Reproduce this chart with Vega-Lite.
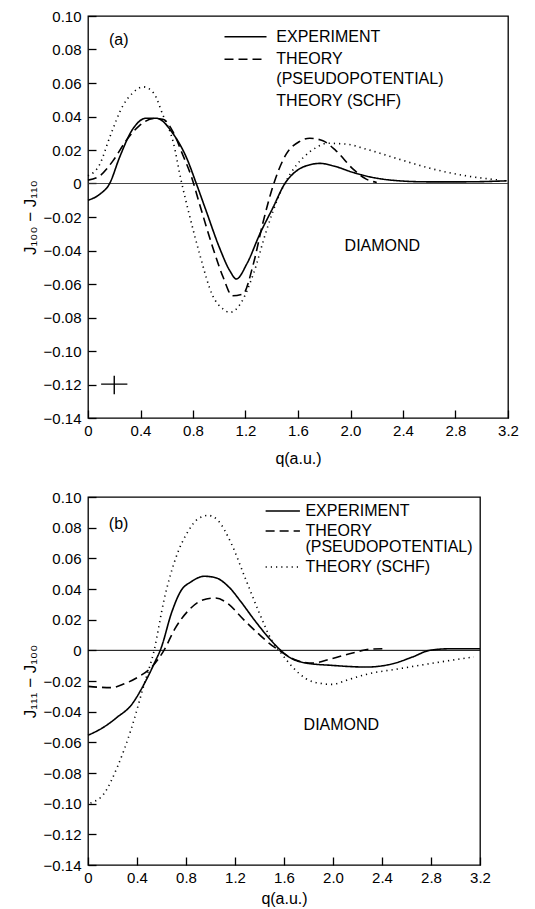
{
  "$schema": "https://vega.github.io/schema/vega-lite/v6.json",
  "background": "white",
  "padding": {"left": 20, "top": 8, "right": 12, "bottom": 0},
  "spacing": 22,
  "config": {
    "font": "Liberation Sans",
    "view": {"stroke": "black", "strokeWidth": 1.3},
    "axis": {
      "domain": false,
      "grid": false,
      "zindex": 1,
      "tickSize": -8,
      "tickColor": "black",
      "tickWidth": 1.3,
      "tickCount": 20,
      "labelFontSize": 15,
      "labelColor": "black",
      "labelOverlap": false,
      "labelFlush": false,
      "titleFontSize": 16,
      "titleFontWeight": "normal",
      "titleColor": "black"
    },
    "text": {"font": "Liberation Sans", "fontSize": 16, "align": "left", "baseline": "middle", "color": "black"}
  },
  "vconcat": [
    {
      "width": 420,
      "height": 402,
      "layer": [
        {
          "data": {"values": [{"q": 0, "q2": 3.2, "v": 0}]},
          "mark": {"type": "rule", "color": "#333", "strokeWidth": 0.9},
          "encoding": {
            "x": {"field": "q", "type": "quantitative", "scale": {"domain": [0, 3.2], "nice": false, "zero": false},
                  "axis": {"values": [0, 0.4, 0.8, 1.2, 1.6, 2.0, 2.4, 2.8, 3.2], "tickCount": 20, "labelExpr": "datum.value == 0 ? '0' : format(datum.value, '.1f')", "title": "q(a.u.)", "titlePadding": 12, "labelPadding": 13, "labelOverlap": false}},
            "x2": {"field": "q2"},
            "y": {"field": "v", "type": "quantitative", "scale": {"domain": [-0.14, 0.10], "nice": false, "zero": false},
                  "axis": {"values": [-0.14, -0.12, -0.10, -0.08, -0.06, -0.04, -0.02, 0, 0.02, 0.04, 0.06, 0.08, 0.10], "tickCount": 20, "labelExpr": "datum.value == 0 ? '0' : format(datum.value, '.2f')", "title": "J₁₀₀ − J₁₁₀", "titleFontSize": 17, "titlePadding": 4, "labelPadding": 15, "labelOverlap": false}}
          }
        },
        {
          "data": {"values": [
            {"s": "exp", "q": 0, "v": -0.010}, {"s": "exp", "q": 0.09, "v": -0.0064}, {"s": "exp", "q": 0.165, "v": 0}, {"s": "exp", "q": 0.24, "v": 0.0155}, {"s": "exp", "q": 0.34, "v": 0.0324}, {"s": "exp", "q": 0.445, "v": 0.039}, {"s": "exp", "q": 0.52, "v": 0.039}, {"s": "exp", "q": 0.65, "v": 0.0295}, {"s": "exp", "q": 0.75, "v": 0.0155}, {"s": "exp", "q": 0.825, "v": 0}, {"s": "exp", "q": 0.9, "v": -0.0163}, {"s": "exp", "q": 1.0, "v": -0.038}, {"s": "exp", "q": 1.08, "v": -0.052}, {"s": "exp", "q": 1.13, "v": -0.057}, {"s": "exp", "q": 1.21, "v": -0.048}, {"s": "exp", "q": 1.31, "v": -0.030}, {"s": "exp", "q": 1.41, "v": -0.0143}, {"s": "exp", "q": 1.5, "v": 0}, {"s": "exp", "q": 1.56, "v": 0.0056}, {"s": "exp", "q": 1.66, "v": 0.0105}, {"s": "exp", "q": 1.77, "v": 0.012}, {"s": "exp", "q": 1.87, "v": 0.0105}, {"s": "exp", "q": 2.02, "v": 0.0066}, {"s": "exp", "q": 2.17, "v": 0.0036}, {"s": "exp", "q": 2.37, "v": 0.0016}, {"s": "exp", "q": 2.58, "v": 0.001}, {"s": "exp", "q": 2.88, "v": 0.001}, {"s": "exp", "q": 3.19, "v": 0.0016},
            {"s": "pseudo", "q": 0, "v": 0.002}, {"s": "pseudo", "q": 0.09, "v": 0.0046}, {"s": "pseudo", "q": 0.19, "v": 0.0135}, {"s": "pseudo", "q": 0.29, "v": 0.0255}, {"s": "pseudo", "q": 0.39, "v": 0.0344}, {"s": "pseudo", "q": 0.5, "v": 0.0388}, {"s": "pseudo", "q": 0.57, "v": 0.0384}, {"s": "pseudo", "q": 0.65, "v": 0.0305}, {"s": "pseudo", "q": 0.72, "v": 0.0175}, {"s": "pseudo", "q": 0.79, "v": 0.0036}, {"s": "pseudo", "q": 0.85, "v": -0.0123}, {"s": "pseudo", "q": 0.95, "v": -0.038}, {"s": "pseudo", "q": 1.03, "v": -0.056}, {"s": "pseudo", "q": 1.1, "v": -0.067}, {"s": "pseudo", "q": 1.18, "v": -0.066}, {"s": "pseudo", "q": 1.26, "v": -0.048}, {"s": "pseudo", "q": 1.33, "v": -0.0243}, {"s": "pseudo", "q": 1.41, "v": -0.0014}, {"s": "pseudo", "q": 1.51, "v": 0.0175}, {"s": "pseudo", "q": 1.61, "v": 0.025}, {"s": "pseudo", "q": 1.69, "v": 0.027}, {"s": "pseudo", "q": 1.79, "v": 0.0255}, {"s": "pseudo", "q": 1.89, "v": 0.0195}, {"s": "pseudo", "q": 2.02, "v": 0.0086}, {"s": "pseudo", "q": 2.12, "v": 0.0026}, {"s": "pseudo", "q": 2.2, "v": 0.0006},
            {"s": "schf", "q": 0, "v": 0.0046}, {"s": "schf", "q": 0.09, "v": 0.0115}, {"s": "schf", "q": 0.165, "v": 0.0275}, {"s": "schf", "q": 0.27, "v": 0.047}, {"s": "schf", "q": 0.34, "v": 0.054}, {"s": "schf", "q": 0.42, "v": 0.0577}, {"s": "schf", "q": 0.5, "v": 0.054}, {"s": "schf", "q": 0.57, "v": 0.041}, {"s": "schf", "q": 0.65, "v": 0.0245}, {"s": "schf", "q": 0.71, "v": 0.0016}, {"s": "schf", "q": 0.77, "v": -0.018}, {"s": "schf", "q": 0.85, "v": -0.042}, {"s": "schf", "q": 0.95, "v": -0.067}, {"s": "schf", "q": 1.03, "v": -0.075}, {"s": "schf", "q": 1.08, "v": -0.077}, {"s": "schf", "q": 1.16, "v": -0.072}, {"s": "schf", "q": 1.26, "v": -0.054}, {"s": "schf", "q": 1.36, "v": -0.028}, {"s": "schf", "q": 1.46, "v": -0.0064}, {"s": "schf", "q": 1.54, "v": 0.0056}, {"s": "schf", "q": 1.64, "v": 0.0155}, {"s": "schf", "q": 1.74, "v": 0.0215}, {"s": "schf", "q": 1.82, "v": 0.024}, {"s": "schf", "q": 1.97, "v": 0.0235}, {"s": "schf", "q": 2.12, "v": 0.0205}, {"s": "schf", "q": 2.37, "v": 0.0145}, {"s": "schf", "q": 2.63, "v": 0.0086}, {"s": "schf", "q": 2.88, "v": 0.0046}, {"s": "schf", "q": 3.14, "v": 0.002}
          ]},
          "mark": {"type": "line", "interpolate": "monotone", "color": "black", "strokeWidth": 1.6},
          "encoding": {
            "x": {"field": "q", "type": "quantitative"},
            "y": {"field": "v", "type": "quantitative"},
            "detail": {"field": "s"},
            "strokeDash": {"field": "s", "type": "nominal", "scale": {"domain": ["exp", "pseudo", "schf"], "range": [[1, 0], [9, 5], [1.2, 4]]}, "legend": null}
          }
        },
        {
          "data": {"values": [
            {"s": "exp", "q": 1.04, "q2": 1.36, "v": 0.0876},
            {"s": "pseudo", "q": 1.04, "q2": 1.36, "v": 0.0742},
            {"s": "exp", "q": 0.1, "q2": 0.3, "v": -0.1198}
          ]},
          "mark": {"type": "rule", "color": "black", "strokeWidth": 1.4},
          "encoding": {
            "x": {"field": "q", "type": "quantitative"},
            "x2": {"field": "q2"},
            "y": {"field": "v", "type": "quantitative"},
            "strokeDash": {"field": "s", "type": "nominal", "scale": {"domain": ["exp", "pseudo", "schf"], "range": [[1, 0], [9, 5], [1.2, 4]]}, "legend": null}
          }
        },
        {
          "data": {"values": [{"q": 0.2, "v": -0.1148, "v2": -0.1258}]},
          "mark": {"type": "rule", "color": "black", "strokeWidth": 1.4},
          "encoding": {
            "x": {"field": "q", "type": "quantitative"},
            "y": {"field": "v", "type": "quantitative"},
            "y2": {"field": "v2"}
          }
        },
        {
          "data": {"values": [
            {"q": 0.16, "v": 0.0856, "t": "(a)"},
            {"q": 1.435, "v": 0.0876, "t": "EXPERIMENT"},
            {"q": 1.435, "v": 0.0742, "t": "THEORY"},
            {"q": 1.435, "v": 0.0623, "t": "(PSEUDOPOTENTIAL)"},
            {"q": 1.435, "v": 0.0494, "t": "THEORY (SCHF)"},
            {"q": 1.955, "v": -0.0372, "t": "DIAMOND"}
          ]},
          "mark": {"type": "text"},
          "encoding": {
            "x": {"field": "q", "type": "quantitative"},
            "y": {"field": "v", "type": "quantitative"},
            "text": {"field": "t"}
          }
        }
      ]
    },
    {
      "width": 392,
      "height": 368,
      "layer": [
        {
          "data": {"values": [{"q": 0, "q2": 3.2, "v": 0}]},
          "mark": {"type": "rule", "color": "black", "strokeWidth": 1},
          "encoding": {
            "x": {"field": "q", "type": "quantitative", "scale": {"domain": [0, 3.2], "nice": false, "zero": false},
                  "axis": {"values": [0, 0.4, 0.8, 1.2, 1.6, 2.0, 2.4, 2.8, 3.2], "tickCount": 20, "labelExpr": "datum.value == 0 ? '0' : format(datum.value, '.1f')", "title": "q(a.u.)", "titlePadding": 5, "labelPadding": 13, "labelOverlap": false}},
            "x2": {"field": "q2"},
            "y": {"field": "v", "type": "quantitative", "scale": {"domain": [-0.14, 0.10], "nice": false, "zero": false},
                  "axis": {"values": [-0.14, -0.12, -0.10, -0.08, -0.06, -0.04, -0.02, 0, 0.02, 0.04, 0.06, 0.08, 0.10], "tickCount": 20, "labelExpr": "datum.value == 0 ? '0' : format(datum.value, '.2f')", "title": "J₁₁₁ − J₁₀₀", "titleFontSize": 17, "titlePadding": 4, "labelPadding": 15, "labelOverlap": false}}
          }
        },
        {
          "data": {"values": [
            {"s": "exp", "q": 0, "v": -0.0554}, {"s": "exp", "q": 0.13, "v": -0.050}, {"s": "exp", "q": 0.24, "v": -0.0435}, {"s": "exp", "q": 0.35, "v": -0.036}, {"s": "exp", "q": 0.46, "v": -0.0217}, {"s": "exp", "q": 0.54, "v": -0.0087}, {"s": "exp", "q": 0.6, "v": 0.0022}, {"s": "exp", "q": 0.68, "v": 0.024}, {"s": "exp", "q": 0.76, "v": 0.039}, {"s": "exp", "q": 0.84, "v": 0.0446}, {"s": "exp", "q": 0.95, "v": 0.0483}, {"s": "exp", "q": 1.04, "v": 0.0474}, {"s": "exp", "q": 1.15, "v": 0.0413}, {"s": "exp", "q": 1.25, "v": 0.0315}, {"s": "exp", "q": 1.36, "v": 0.0196}, {"s": "exp", "q": 1.47, "v": 0.0087}, {"s": "exp", "q": 1.56, "v": 0.001}, {"s": "exp", "q": 1.64, "v": -0.0043}, {"s": "exp", "q": 1.78, "v": -0.0083}, {"s": "exp", "q": 1.99, "v": -0.0098}, {"s": "exp", "q": 2.27, "v": -0.0109}, {"s": "exp", "q": 2.49, "v": -0.0087}, {"s": "exp", "q": 2.65, "v": -0.0043}, {"s": "exp", "q": 2.79, "v": 0}, {"s": "exp", "q": 2.95, "v": 0.001}, {"s": "exp", "q": 3.2, "v": 0.001},
            {"s": "pseudo", "q": 0, "v": -0.0235}, {"s": "pseudo", "q": 0.08, "v": -0.024}, {"s": "pseudo", "q": 0.19, "v": -0.0243}, {"s": "pseudo", "q": 0.3, "v": -0.0217}, {"s": "pseudo", "q": 0.41, "v": -0.0174}, {"s": "pseudo", "q": 0.52, "v": -0.0109}, {"s": "pseudo", "q": 0.62, "v": 0}, {"s": "pseudo", "q": 0.71, "v": 0.0141}, {"s": "pseudo", "q": 0.82, "v": 0.026}, {"s": "pseudo", "q": 0.93, "v": 0.0326}, {"s": "pseudo", "q": 1.04, "v": 0.0341}, {"s": "pseudo", "q": 1.15, "v": 0.030}, {"s": "pseudo", "q": 1.25, "v": 0.0217}, {"s": "pseudo", "q": 1.39, "v": 0.0109}, {"s": "pseudo", "q": 1.5, "v": 0.0033}, {"s": "pseudo", "q": 1.56, "v": 0}, {"s": "pseudo", "q": 1.67, "v": -0.0054}, {"s": "pseudo", "q": 1.83, "v": -0.0083}, {"s": "pseudo", "q": 1.99, "v": -0.0054}, {"s": "pseudo", "q": 2.16, "v": -0.0017}, {"s": "pseudo", "q": 2.3, "v": 0.0007}, {"s": "pseudo", "q": 2.41, "v": 0.001},
            {"s": "schf", "q": 0.02, "v": -0.0996}, {"s": "schf", "q": 0.13, "v": -0.0935}, {"s": "schf", "q": 0.24, "v": -0.076}, {"s": "schf", "q": 0.35, "v": -0.052}, {"s": "schf", "q": 0.46, "v": -0.0217}, {"s": "schf", "q": 0.54, "v": 0}, {"s": "schf", "q": 0.62, "v": 0.0326}, {"s": "schf", "q": 0.71, "v": 0.0587}, {"s": "schf", "q": 0.82, "v": 0.078}, {"s": "schf", "q": 0.9, "v": 0.0859}, {"s": "schf", "q": 0.98, "v": 0.088}, {"s": "schf", "q": 1.06, "v": 0.0848}, {"s": "schf", "q": 1.17, "v": 0.0696}, {"s": "schf", "q": 1.28, "v": 0.0478}, {"s": "schf", "q": 1.39, "v": 0.026}, {"s": "schf", "q": 1.5, "v": 0.0065}, {"s": "schf", "q": 1.58, "v": -0.0022}, {"s": "schf", "q": 1.67, "v": -0.0109}, {"s": "schf", "q": 1.78, "v": -0.0185}, {"s": "schf", "q": 1.91, "v": -0.0217}, {"s": "schf", "q": 1.99, "v": -0.0222}, {"s": "schf", "q": 2.13, "v": -0.019}, {"s": "schf", "q": 2.27, "v": -0.0157}, {"s": "schf", "q": 2.54, "v": -0.012}, {"s": "schf", "q": 2.82, "v": -0.0083}, {"s": "schf", "q": 3.15, "v": -0.0043}
          ]},
          "mark": {"type": "line", "interpolate": "monotone", "color": "black", "strokeWidth": 1.6},
          "encoding": {
            "x": {"field": "q", "type": "quantitative"},
            "y": {"field": "v", "type": "quantitative"},
            "detail": {"field": "s"},
            "strokeDash": {"field": "s", "type": "nominal", "scale": {"domain": ["exp", "pseudo", "schf"], "range": [[1, 0], [9, 5], [1.2, 4]]}, "legend": null}
          }
        },
        {
          "data": {"values": [
            {"s": "exp", "q": 1.45, "q2": 1.73, "v": 0.0909},
            {"s": "pseudo", "q": 1.45, "q2": 1.73, "v": 0.0778},
            {"s": "schf", "q": 1.45, "q2": 1.73, "v": 0.0543}
          ]},
          "mark": {"type": "rule", "color": "black", "strokeWidth": 1.4},
          "encoding": {
            "x": {"field": "q", "type": "quantitative"},
            "x2": {"field": "q2"},
            "y": {"field": "v", "type": "quantitative"},
            "strokeDash": {"field": "s", "type": "nominal", "scale": {"domain": ["exp", "pseudo", "schf"], "range": [[1, 0], [9, 5], [1.2, 4]]}, "legend": null}
          }
        },
        {
          "data": {"values": [
            {"q": 0.17, "v": 0.0826, "t": "(b)"},
            {"q": 1.775, "v": 0.0909, "t": "EXPERIMENT"},
            {"q": 1.775, "v": 0.0778, "t": "THEORY"},
            {"q": 1.775, "v": 0.0674, "t": "(PSEUDOPOTENTIAL)"},
            {"q": 1.775, "v": 0.0543, "t": "THEORY (SCHF)"},
            {"q": 1.76, "v": -0.049, "t": "DIAMOND"}
          ]},
          "mark": {"type": "text"},
          "encoding": {
            "x": {"field": "q", "type": "quantitative"},
            "y": {"field": "v", "type": "quantitative"},
            "text": {"field": "t"}
          }
        }
      ]
    }
  ]
}
